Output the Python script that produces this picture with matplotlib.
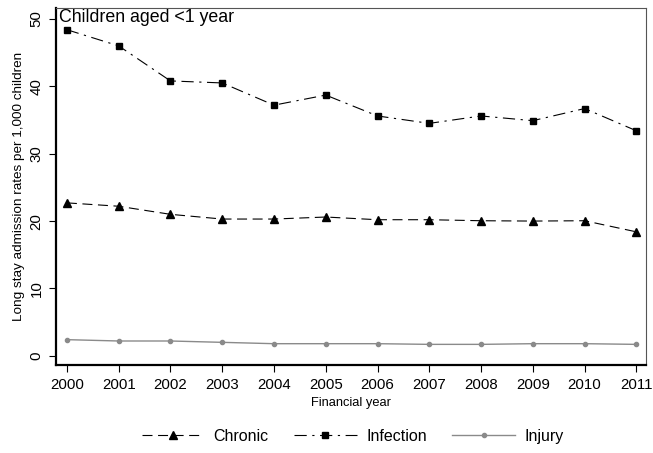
import matplotlib
matplotlib.use("Agg")
import matplotlib.pyplot as plt

plt.rcParams['font.family'] = ['Liberation Sans', 'DejaVu Sans']

# data
years = [2000, 2001, 2002, 2003, 2004, 2005, 2006, 2007, 2008, 2009, 2010, 2011]
chronic = [22.7, 22.2, 21.0, 20.3, 20.3, 20.6, 20.2, 20.2, 20.05, 20.0, 20.05, 18.4]
infection = [48.4, 46.0, 40.8, 40.5, 37.2, 38.7, 35.6, 34.5, 35.6, 34.9, 36.7, 33.4]
injury = [2.4, 2.2, 2.2, 2.0, 1.8, 1.8, 1.8, 1.7, 1.7, 1.8, 1.8, 1.7]
yticks = [0, 10, 20, 30, 40, 50]

fig = plt.figure(figsize=(6.53, 4.53), dpi=100)
ax = fig.add_axes([0.0858, 0.194, 0.903, 0.788])

ax.plot(years, chronic, color='black', lw=0.8, dashes=(9, 5),
        marker='^', ms=5.5, label='Chronic')
ax.plot(years, infection, color='black', lw=0.8, dashes=(11, 5, 2, 5),
        marker='s', ms=5, label='Infection')
ax.plot(years, injury, color='#8a8a8a', lw=1.0, marker='o', ms=3,
        label='Injury')

ax.set_xlim(1999.79, 2011.18)
ax.set_ylim(-1.38, 51.6)
ax.set_xticks(years)
ax.set_yticks(yticks)
ax.tick_params(axis='both', labelsize=10.8, length=5, width=0.8, pad=4)
for lab in ax.get_yticklabels():
    lab.set_rotation(90)
    lab.set_va('center')

for side in ['left', 'bottom']:
    ax.spines[side].set_linewidth(1.6)
    ax.spines[side].set_color('black')
for side in ['top', 'right']:
    ax.spines[side].set_linewidth(0.8)
    ax.spines[side].set_color('#555555')

ax.set_xlabel('Financial year', fontsize=9.3, labelpad=4)
ax.set_ylabel('Long stay admission rates per 1,000 children', fontsize=9.7, labelpad=3)

ax.text(0.005, 0.997, 'Children aged <1 year', transform=ax.transAxes,
        ha='left', va='top', fontsize=12.8)

fig.legend(loc='center', bbox_to_anchor=(0.54, 0.037), ncol=3, frameon=False,
           fontsize=11.5, handlelength=3.9, columnspacing=1.6, handletextpad=0.6)

fig.savefig('out.png', dpi=100)
